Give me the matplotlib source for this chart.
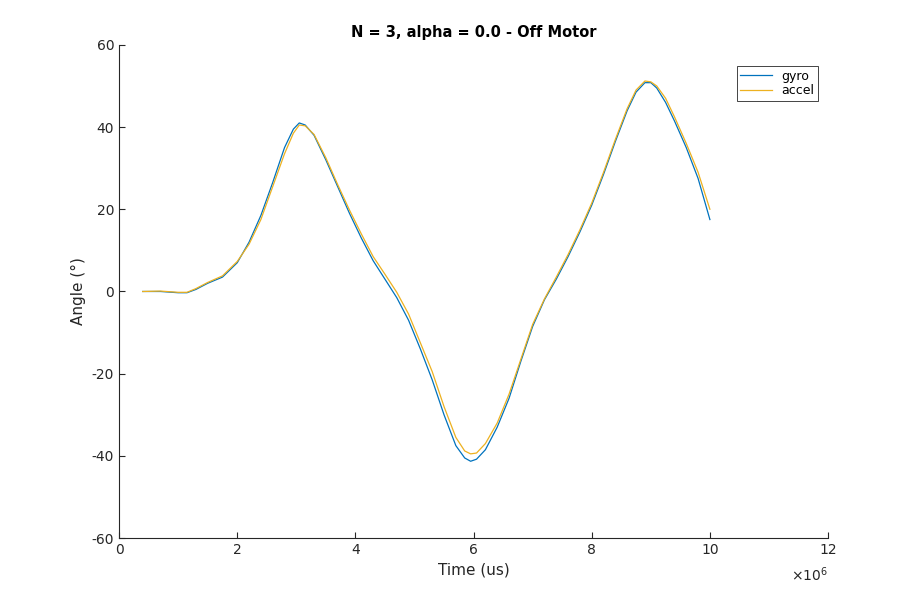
import matplotlib.pyplot as plt
plt.rcParams["axes.unicode_minus"] = False

# Time in units of 1e6 us
t_gyro = [0.4, 0.7, 1.0, 1.15, 1.3, 1.5, 1.75, 2.0, 2.2, 2.4, 2.6, 2.8, 2.95, 3.05, 3.15, 3.3,
          3.5, 3.7, 3.9, 4.1, 4.3, 4.5, 4.7, 4.9, 5.1, 5.3, 5.5, 5.7, 5.85, 5.95, 6.05, 6.2,
          6.4, 6.6, 6.8, 7.0, 7.2, 7.4, 7.6, 7.8, 8.0, 8.2, 8.4, 8.6, 8.75, 8.9, 9.0, 9.1,
          9.25, 9.4, 9.6, 9.8, 10.0]
gyro = [0.0, 0.0, -0.3, -0.3, 0.5, 2.0, 3.5, 7.0, 12.0, 18.5, 26.5, 35.0, 39.5, 41.0, 40.5, 38.0,
        32.0, 25.5, 19.0, 13.0, 7.5, 3.0, -1.5, -7.0, -14.0, -21.5, -30.0, -37.5, -40.5, -41.3, -40.8, -38.5,
        -33.0, -26.0, -17.0, -8.5, -2.0, 3.0, 8.5, 14.5, 21.0, 28.5, 36.5, 44.0, 48.5, 50.8, 50.8, 49.5,
        46.0, 41.5, 35.0, 27.5, 17.5]

t_accel = t_gyro
accel = [0.0, 0.1, -0.2, -0.2, 0.7, 2.2, 3.8, 7.3, 11.5, 17.5, 25.5, 33.5, 38.5, 40.5, 40.3, 38.2,
         32.5, 26.0, 19.8, 14.0, 8.5, 4.2, -0.2, -5.5, -12.5, -19.5, -28.0, -35.5, -38.8, -39.5, -39.3, -37.0,
         -32.0, -25.0, -16.5, -8.0, -1.8, 3.5, 9.0, 15.0, 21.5, 29.0, 37.0, 44.5, 49.0, 51.2, 51.0, 50.0,
         47.0, 42.5, 36.0, 29.0, 20.0]

fig = plt.figure(figsize=(9.16, 6.06), dpi=100)
ax = fig.add_axes([0.130, 0.112, 0.774, 0.814])

ax.plot([t * 1e6 for t in t_gyro], gyro, color="#0072BD", linewidth=0.9, label="gyro")
ax.plot([t * 1e6 for t in t_accel], accel, color="#EDB120", linewidth=0.9, label="accel")

ax.set_xlim(0, 12e6)
ax.set_ylim(-60, 60)
ax.set_xticks([i * 2e6 for i in range(7)])
ax.set_xticklabels([str(i * 2) for i in range(7)])
ax.set_yticks(range(-60, 61, 20))
ax.tick_params(direction="in", labelsize=10, colors="#262626", length=4)
ax.text(1.0, -0.055, r"$\times10^{6}$", transform=ax.transAxes, ha="right", va="top",
        fontsize=10, color="#262626")

for s in ["top", "right"]:
    ax.spines[s].set_visible(False)
for s in ["left", "bottom"]:
    ax.spines[s].set_color("#262626")

ax.set_xlabel("Time (us)", fontsize=11, color="#262626")
ax.set_ylabel("Angle (°)", fontsize=11, color="#262626")
ax.set_title("N = 3, alpha = 0.0 - Off Motor", fontsize=10.5, fontweight="bold")

leg = ax.legend(loc="upper right", bbox_to_anchor=(0.995, 0.97), fontsize=9, fancybox=False,
                framealpha=1, edgecolor="#262626", handlelength=2.5, borderpad=0.3, labelspacing=0.1)
leg.get_frame().set_linewidth(0.6)

plt.savefig("out.png", dpi=100)
